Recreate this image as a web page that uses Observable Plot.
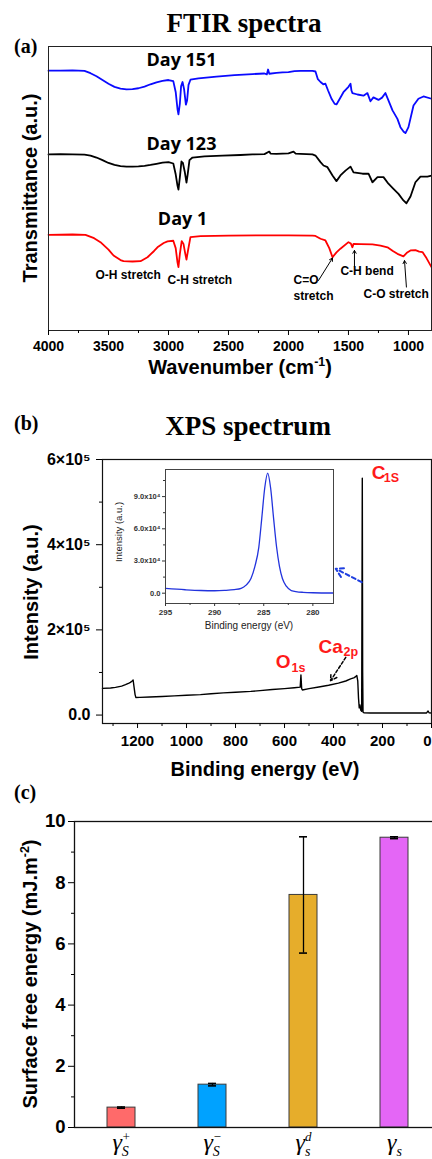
<!DOCTYPE html>
<html><head><meta charset="utf-8">
<script src="https://cdn.jsdelivr.net/npm/d3@7"></script>
<script src="https://cdn.jsdelivr.net/npm/@observablehq/plot@0.6"></script>
<style>
html,body{margin:0;padding:0;background:#fff;}
#wrap{position:relative;width:432px;height:1159px;overflow:hidden;background:#fff;}
#wrap svg{position:absolute;max-width:none;}
</style></head><body><div id="wrap"></div>
<script>
// ===================== DATA =====================
// (a) FTIR: [wavenumber cm-1, transmittance a.u.]
const day151 = [[4000,91.5],[3900,91.5],[3800,91.6],[3700,91.4],[3650,90.6],[3600,89.5],[3550,88.2],[3500,86.9],[3450,85.8],[3400,85.2],[3350,84.9],[3300,85.0],[3250,85.3],[3200,85.9],[3150,86.7],[3100,87.4],[3050,87.9],[3000,88.2],[2960,87.8],[2940,84],[2925,78],[2917,76.1],[2905,80],[2895,86],[2883,87.5],[2870,85],[2855,79.5],[2845,81],[2833,86.5],[2817,88.3],[2750,88.8],[2600,89.4],[2450,89.9],[2300,90.3],[2200,90.5],[2180,90.2],[2170,91.9],[2160,90.4],[2100,90.7],[2050,90.9],[2000,91.0],[1950,91.3],[1900,91.4],[1800,91.4],[1775,91.2],[1755,88.5],[1733,87.5],[1710,86.7],[1692,86.9],[1670,84.5],[1640,81.5],[1615,79.8],[1600,79.6],[1570,81.8],[1542,83.9],[1500,85.8],[1483,86.9],[1475,84.5],[1467,83.6],[1425,83.1],[1375,82.7],[1342,83.6],[1317,80.7],[1292,82.1],[1250,81.2],[1220,82],[1192,83.6],[1167,81.0],[1133,77.5],[1092,74.5],[1067,71.6],[1040,70],[1025,69.5],[1000,71.6],[958,79.2],[917,81.6],[875,82.4],[808,81.6]];
const day123 = [[4000,62.0],[3900,62.1],[3800,62.0],[3700,61.9],[3650,61.6],[3600,60.9],[3550,60.0],[3500,59.0],[3450,58.3],[3400,57.9],[3350,57.7],[3300,57.7],[3250,57.8],[3200,58.0],[3150,58.3],[3100,58.7],[3050,59.1],[3000,59.3],[2960,58.8],[2940,55],[2925,51],[2917,49.6],[2905,54],[2892,59.5],[2880,59],[2865,56],[2850,52.1],[2840,55],[2825,60],[2800,60.9],[2700,61.3],[2550,61.6],[2400,61.8],[2300,62.0],[2200,62.1],[2160,63.0],[2150,62.3],[2100,62.2],[2000,62.4],[1958,63.0],[1940,62.3],[1900,62.2],[1800,62.0],[1775,61.6],[1733,59.3],[1708,58.1],[1675,57.5],[1633,54.6],[1600,52.6],[1567,54.6],[1525,56.3],[1483,57.7],[1458,55.7],[1383,55.2],[1333,55.2],[1300,52.2],[1258,54.0],[1208,54.0],[1167,51.7],[1125,49.9],[1083,48.1],[1042,45.8],[1017,44.8],[983,47.2],[942,52.2],[900,54.2],[842,54.2],[808,54.5]];
const day1 = [[4000,33.7],[3800,33.8],[3692,33.7],[3620,32.5],[3567,31.1],[3500,28.5],[3458,26.4],[3400,24.8],[3375,24.4],[3300,24.3],[3233,24.4],[3175,25.8],[3120,28.0],[3092,29.3],[3040,30.8],[3008,31.4],[2960,31.6],[2940,29],[2925,24],[2917,22.3],[2905,27],[2890,31.5],[2875,30.5],[2860,27],[2850,25.0],[2838,28],[2817,32.9],[2733,33.2],[2500,33.4],[2200,33.5],[2000,33.5],[1800,33.4],[1775,33.3],[1733,32.3],[1692,31.7],[1660,29],[1633,25.8],[1600,27.5],[1567,28.8],[1500,31.1],[1480,30.6],[1467,29.3],[1458,30.5],[1400,30.4],[1300,30.3],[1233,29.9],[1175,29.3],[1130,28],[1092,27.0],[1042,26.1],[1010,27.5],[983,28.2],[942,28.3],[910,27.8],[883,27.6],[850,25.5],[808,22.3]];
const ftirTicks = [4000,3500,3000,2500,2000,1500,1000];
const ftirMinor = [3750,3250,2750,2250,1750,1250];
const dayLabels = [{w:2892,t:93.3,text:"Day 151"},{w:2892,t:63.7,text:"Day 123"},{w:2883,t:37.0,text:"Day 1"}];
const ftirNotes = [{w:3608,t:18.3,text:"O-H stretch"},{w:3008,t:16.5,text:"C-H stretch"},{w:1958,t:16.3,text:"C=O"},{w:1958,t:10.6,text:"stretch"},{w:1567,t:19.4,text:"C-H bend"},{w:1375,t:11.6,text:"C-O stretch"}];
const ftirArrows = [{w1:1750,t1:17.6,w2:1633,t2:25.5},{w1:1450,t1:22.5,w2:1450,t2:28.2},{w1:1017,t1:15.3,w2:1033,t2:24.6}];

// (b) XPS survey: [binding energy eV, intensity]
const xps = [[1343,62600],[1310,63500],[1290,65000],[1265,68000],[1249,71300],[1235,75000],[1229,76700],[1222,80000],[1218,82300],[1214,65000],[1210,48000],[1207,41400],[1190,41500],[1150,42500],[1100,43500],[1050,45000],[1000,46500],[943,48000],[900,50000],[850,52000],[800,53500],[738,55500],[700,57500],[650,60000],[600,62000],[560,64000],[536,65500],[533,94000],[530,62000],[527,58800],[500,62000],[460,66000],[420,70000],[380,75000],[350,80000],[330,85000],[315,88000],[310,90100],[305,93000],[301,80000],[298,40000],[295,17000],[292,24000],[289,12000],[285,9000],[282.5,556000],[281,100000],[279.5,7000],[276,5500],[250,5000],[200,4800],[150,4700],[100,4700],[50,4800],[20,5000],[14,9500],[10,5500],[0,4800]];
const xpsXTicks = [1200,1000,800,600,400,200];
const xpsXEnd = [0];
const xpsXMinor = [1300,1100,900,700,500,300,100];
const xpsYTicks = [0,200000,400000,600000];
const xpsYMinor = [100000,300000,500000];
const xpsMain = [{e:244,i:553700,t:"C"},{e:636,i:111300,t:"O"},{e:461,i:146600,t:"Ca"}];
const xpsSub = [{e:195,i:546600,t:"1S"},{e:571,i:101900,t:"1s"},{e:359,i:139500,t:"2p"}];
const caArrow = [{e1:350,i1:135500,e2:412,i2:80700}];
const zoomArrow = [{e1:285,i1:312000,e2:391,i2:343500}];
// inset C1s high resolution
const c1s = [[295,4400],[293,3200],[291.4,2500],[290,2300],[289,2600],[288,3300],[287.3,4500],[286.8,7500],[286.3,13700],[285.9,25000],[285.5,43000],[285.2,70000],[284.9,98000],[284.6,111800],[284.3,98000],[284.0,70000],[283.7,43500],[283.4,25000],[283.1,13700],[282.7,6500],[282.2,2500],[281,800],[280,400],[277.9,200]];
const insetXTicks = [295,290,285,280];
const insetXMinor = [292.5,287.5,282.5];
const insetYTicks = [0,30000,60000,90000];
const insetYMinor = [15000,45000,75000,105000];

// (c) Surface free energy
const sfeCats = ["γS+","γS−","γsd","γs"];
const sfeValues = [0.65,1.40,7.60,9.47];
const sfeErrors = [0.02,0.04,1.90,0.03];
const sfeColors = ["#ff6a6a","#00a2ff","#e6ad2b","#e466f6"];
const gammaSub = ["S","S","s","s"];
const gammaSup = ["+","−","d",""];
const sfeTicks = [0,2,4,6,8,10];
const sfeMinor = [1,3,5,7,9];

// ===================== RENDER =====================
const wrap = document.getElementById("wrap");
const sans = "'Liberation Sans', Arial, Helvetica, sans-serif";
const serif = "'Liberation Serif', 'Times New Roman', serif";
const baseStyle = {fontFamily: sans, fontWeight: "bold", fontSize: "14px", color: "#000", background: "transparent", overflow: "visible"};
function place(svg, left, top) {
  svg.style.left = left + "px"; svg.style.top = top + "px"; svg.style.maxWidth = "none";
  wrap.appendChild(svg);
}
const X = d => d[0], Y = d => d[1];

// ---- panel (a)
const plotA = Plot.plot({
  width: 432, height: 320, marginTop: 6, marginBottom: 30, marginLeft: 48, marginRight: 1,
  x: {domain: [4000, 808], label: null},
  y: {domain: [0, 100], axis: null, label: null},
  style: baseStyle,
  marks: [
    Plot.line(day151, {x: X, y: Y, stroke: "#0a0aff", strokeWidth: 1.8}),
    Plot.line(day123, {x: X, y: Y, stroke: "#000", strokeWidth: 1.8}),
    Plot.line(day1, {x: X, y: Y, stroke: "#ff0000", strokeWidth: 1.8}),
    Plot.frame({stroke: "#222", strokeWidth: 1}),
    Plot.axisX(ftirTicks, {tickSize: 5, tickPadding: 6, fontSize: 14, fontWeight: "bold", label: null, tickFormat: d => String(d)}),
    Plot.axisX(ftirMinor, {tickSize: 3, label: null, tickFormat: () => ""}),
    Plot.text(dayLabels, {x: "w", y: "t", text: "text", textAnchor: "middle", lineAnchor: "bottom", fontFamily: "'Open Sans', sans-serif", fontWeight: "bold", fontSize: 18, fill: "#000"}),
    Plot.text(ftirNotes, {x: "w", y: "t", text: "text", textAnchor: "start", lineAnchor: "bottom", fontFamily: sans, fontWeight: "bold", fontSize: 12, fill: "#000"}),
    Plot.arrow(ftirArrows, {x1: "w1", y1: "t1", x2: "w2", y2: "t2", stroke: "#000", strokeWidth: 1, headLength: 5})
  ]
});
place(plotA, 0, 40);

// ---- panel (b)
const plotB = Plot.plot({
  width: 432, height: 320, marginTop: 19, marginBottom: 37, marginLeft: 102, marginRight: 1,
  x: {domain: [1343, 0], label: null},
  y: {domain: [-19800, 600000], label: null},
  style: baseStyle,
  marks: [
    Plot.line(xps, {x: X, y: Y, stroke: "#000", strokeWidth: 1.4}),
    Plot.frame({stroke: "#111", strokeWidth: 1.2}),
    Plot.axisX(xpsXTicks, {tickSize: 5, tickPadding: 7, fontSize: 15, fontWeight: "bold", label: null, tickFormat: d => String(d)}),
    Plot.axisX(xpsXEnd, {tickSize: 5, tickPadding: 7, fontSize: 15, fontWeight: "bold", label: null, textAnchor: "end", tickFormat: d => String(d)}),
    Plot.axisX(xpsXMinor, {tickSize: 3, label: null, tickFormat: () => ""}),
    Plot.axisY(xpsYTicks, {tickSize: 6, tickPadding: 6, fontSize: 16, fontWeight: "bold", label: null, tickFormat: d => d === 0 ? "0.0" : `${d / 1e5}×10⁵`}),
    Plot.axisY(xpsYMinor, {tickSize: 3, label: null, tickFormat: () => ""}),
    Plot.text(xpsMain, {x: "e", y: "i", text: "t", textAnchor: "start", lineAnchor: "bottom", fill: "#ff1a1a", fontSize: 19, fontWeight: "bold", fontFamily: sans}),
    Plot.text(xpsSub, {x: "e", y: "i", text: "t", textAnchor: "start", lineAnchor: "bottom", fill: "#ff1a1a", fontSize: 12.5, fontWeight: "bold", fontFamily: sans}),
    Plot.arrow(caArrow, {x1: "e1", y1: "i1", x2: "e2", y2: "i2", stroke: "#000", strokeWidth: 1.5, strokeDasharray: "3,2", headLength: 7}),
    Plot.arrow(zoomArrow, {x1: "e1", y1: "i1", x2: "e2", y2: "i2", stroke: "#1f3fe0", strokeWidth: 2, strokeDasharray: "4,3", headLength: 8})
  ]
});
place(plotB, 0, 440);

// ---- inset
const plotIn = Plot.plot({
  width: 228, height: 180, marginTop: 9, marginBottom: 37, marginLeft: 55, marginRight: 5,
  x: {domain: [295, 277.9], label: null},
  y: {domain: [-9600, 115250], label: null},
  style: {...baseStyle, fontSize: "8px", color: "#333"},
  marks: [
    Plot.line(c1s, {x: X, y: Y, stroke: "#2233dd", strokeWidth: 1.3, curve: "monotone-x"}),
    Plot.frame({stroke: "#444", strokeWidth: 1}),
    Plot.axisX(insetXTicks, {tickSize: 3, tickPadding: 3, fontSize: 8, fontWeight: "bold", label: null, tickFormat: d => String(d)}),
    Plot.axisX(insetXMinor, {tickSize: 2, label: null, tickFormat: () => ""}),
    Plot.axisY(insetYTicks, {tickSize: 3, tickPadding: 2, fontSize: 7.5, fontWeight: "bold", label: null, tickFormat: d => d === 0 ? "0.0" : `${(d / 1e4).toFixed(1)}x10⁴`}),
    Plot.axisY(insetYMinor, {tickSize: 2, label: null, tickFormat: () => ""})
  ]
});
place(plotIn, 110, 460);

// ---- panel (c)
const sfe = sfeCats.map((c, i) => ({cat: c, v: sfeValues[i], e: sfeErrors[i], color: sfeColors[i]}));
const plotC = Plot.plot({
  width: 450, height: 359, marginTop: 21, marginBottom: 32, marginLeft: 74, marginRight: 8.8,
  x: {domain: sfeCats, paddingInner: 0.695, paddingOuter: 0.3475, axis: null, label: null},
  y: {domain: [0, 10], label: null},
  color: {type: "identity"},
  style: baseStyle,
  marks: [
    Plot.barY(sfe, {x: "cat", y: "v", fill: "color", stroke: "#3a3a3a", strokeWidth: 1}),
    Plot.ruleX(sfe, {x: "cat", y1: d => d.v - d.e, y2: d => d.v + d.e, stroke: "#000", strokeWidth: 1.3}),
    Plot.tickY(sfe, {x: "cat", y: d => d.v + d.e, inset: 10, stroke: "#000", strokeWidth: 1.6}),
    Plot.tickY(sfe, {x: "cat", y: d => d.v - d.e, inset: 10, stroke: "#000", strokeWidth: 1.6}),
    Plot.frame({stroke: "#111", strokeWidth: 1.3}),
    Plot.axisY(sfeTicks, {tickSize: 6, tickPadding: 3, fontSize: 18.5, fontWeight: "bold", label: null, tickFormat: d => String(d)}),
    Plot.axisY(sfeMinor, {tickSize: 3, label: null, tickFormat: () => ""}),
    Plot.text(sfe, {x: "cat", text: "cat", frameAnchor: "bottom", dy: 22, lineAnchor: "bottom", fontFamily: serif, fontStyle: "italic", fontWeight: "normal", fontSize: 24, fill: "#000", ariaDescription: "gamma-labels"})
  ]
});
d3.select(plotC).selectAll('g[aria-description="gamma-labels"] text').each(function (_, i) {
  const t = d3.select(this);
  t.text(null);
  t.append("tspan").text("γ");
  const subW = gammaSub[i] === "S" ? 7 : 5.4;
  t.append("tspan").attr("font-size", 14).attr("dy", 6).text(gammaSub[i]);
  if (gammaSup[i]) t.append("tspan").attr("font-size", 13).attr("dx", -subW).attr("dy", -15).text(gammaSup[i]);
});
place(plotC, 0, 800);

// ---- overlay text (titles, axis titles, panel letters)
const ov = d3.create("svg").attr("width", 432).attr("height", 1159).style("left", "0px").style("top", "0px").style("pointer-events", "none");
function addText({x, y, parts, size, family = sans, weight = "bold", anchor = "middle", rotate = false, fill = "#000"}) {
  const t = ov.append("text").attr("font-family", family).attr("font-size", size).attr("font-weight", weight)
    .attr("text-anchor", anchor).attr("fill", fill)
    .attr("transform", rotate ? `translate(${x},${y}) rotate(-90)` : `translate(${x},${y})`);
  let back = 0;
  for (const p of parts) {
    if (typeof p === "string") {
      const s = t.append("tspan").text(p);
      if (back) { s.attr("dy", back); back = 0; }
    } else {
      t.append("tspan").text(p.sup).attr("font-size", size * 0.62).attr("dy", -size * 0.4);
      back = size * 0.4;
    }
  }
}
addText({x: 244, y: 32, parts: ["FTIR spectra"], size: 27, family: serif});
addText({x: 14, y: 53, parts: ["(a)"], size: 20, family: serif, anchor: "start"});
addText({x: 37, y: 188, parts: ["Transmittance (a.u.)"], size: 20, rotate: true});
addText({x: 240, y: 374, parts: ["Wavenumber (cm", {sup: "-1"}, ")"], size: 20});
addText({x: 14, y: 430, parts: ["(b)"], size: 20, family: serif, anchor: "start"});
addText({x: 248, y: 435, parts: ["XPS spectrum"], size: 27, family: serif});
addText({x: 38, y: 592, parts: ["Intensity (a.u.)"], size: 20, rotate: true});
addText({x: 265, y: 776, parts: ["Binding energy (eV)"], size: 20});
addText({x: 249, y: 629, parts: ["Binding energy (eV)"], size: 10, weight: "normal", fill: "#222"});
addText({x: 122, y: 532, parts: ["Intensity (a.u.)"], size: 9.5, weight: "normal", fill: "#222", rotate: true});
addText({x: 14, y: 799, parts: ["(c)"], size: 20, family: serif, anchor: "start"});
addText({x: 37, y: 974, parts: ["Surface free energy (mJ.m", {sup: "-2"}, ")"], size: 20, rotate: true});
wrap.appendChild(ov.node());
</script></body></html>
